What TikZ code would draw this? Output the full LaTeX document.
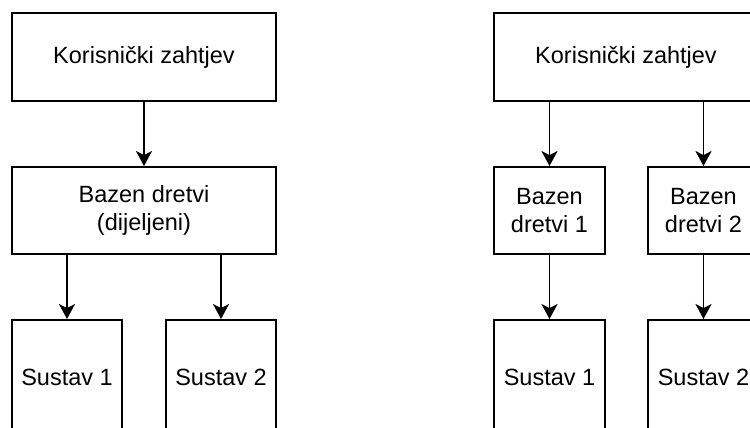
\documentclass[tikz,border=0pt]{standalone}
\usepackage{fontspec}
\setmainfont{Liberation Sans}
\usetikzlibrary{arrows.meta}

\begin{document}
\begin{tikzpicture}[x=1pt, y=-1pt,
    box/.style={draw=black, line width=1.9pt, fill=white, align=center,
        inner sep=0pt, font=\fontsize{23.5}{28.5}\selectfont},
    link/.style={line width=1.9pt, -{Stealth[length=15pt, width=16pt, inset=4pt]}}]

    % Frame of the picture (boxes on the right and bottom run past it)
    \clip (0,0) rectangle (750,428);
    \fill[white] (0,0) rectangle (750,428);

    % Left: one shared pool
    \node[box, minimum width=264pt, minimum height=88pt] (req1) at (144,57) {Korisnički zahtjev};
    \node[box, minimum width=264pt, minimum height=87pt] (pool) at (144,210.5) {Bazen dretvi\\(dijeljeni)};
    \node[box, minimum width=110pt, minimum height=114pt] (sys1) at (67,377) {Sustav 1};
    \node[box, minimum width=110pt, minimum height=114pt] (sys2) at (221,377) {Sustav 2};

    \draw[link] (req1) -- (pool);
    \draw[link] (sys1.north |- pool.south) -- (sys1);
    \draw[link] (sys2.north |- pool.south) -- (sys2);

    % Right: one pool per system
    \node[box, minimum width=264pt, minimum height=88pt] (req2) at (626,57) {Korisnički zahtjev};
    \node[box, minimum width=111pt, minimum height=87pt] (pool1) at (549.5,210.5) {Bazen\\dretvi 1};
    \node[box, minimum width=111pt, minimum height=87pt] (pool2) at (703.5,210.5) {Bazen\\dretvi 2};
    \node[box, minimum width=111pt, minimum height=114pt] (sys3) at (549.5,377) {Sustav 1};
    \node[box, minimum width=111pt, minimum height=114pt] (sys4) at (703.5,377) {Sustav 2};

    \draw[link] (pool1.north |- req2.south) -- (pool1);
    \draw[link] (pool2.north |- req2.south) -- (pool2);
    \draw[link] (pool1) -- (sys3);
    \draw[link] (pool2) -- (sys4);

\end{tikzpicture}
\end{document}
